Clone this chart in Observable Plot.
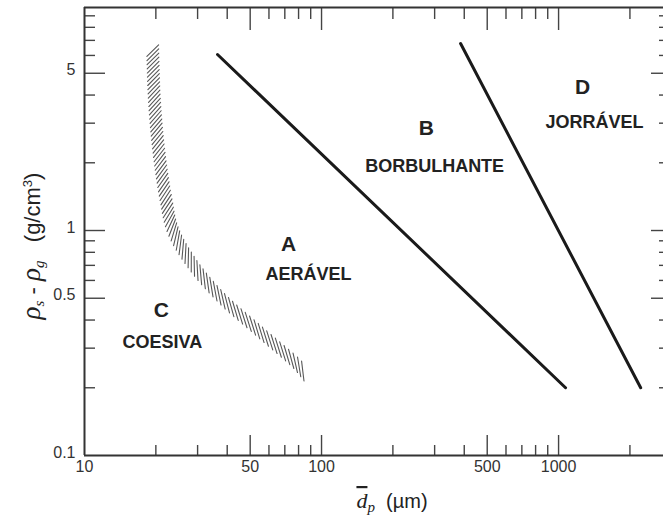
<!DOCTYPE html>
<html><head><meta charset="utf-8">
<script src="https://cdn.jsdelivr.net/npm/d3@7"></script>
<script src="https://cdn.jsdelivr.net/npm/@observablehq/plot@0.6"></script>
<style>
html,body{margin:0;padding:0;background:#fff;overflow:hidden}
</style></head><body><div id="chart"></div>
<script>
// tick values
const xMajor = [50, 100, 500, 1000];
const xMinor = [20, 30, 40, 60, 70, 80, 90, 200, 300, 400, 600, 700, 800, 900, 2000];
const xLabels = [10, 50, 100, 500, 1000];
const yMajor = [0.5, 1, 5];
const yMinor = [0.2, 0.3, 0.4, 0.6, 0.7, 0.8, 0.9, 2, 3, 4, 6, 7, 8, 9];
const yLabels = [0.1, 0.5, 1, 5];

// boundaries (dp in µm, rho_s - rho_g in g/cm3)
const lineAB_dp = [36.4, 1070];
const lineAB_drho = [6.06, 0.2];
const lineBD_dp = [386, 2220];
const lineBD_drho = [6.78, 0.2];
const bandCA_dp = [19.4, 19.7, 20.5, 22, 23.7, 28.6, 38, 54, 77, 84];
const bandCA_drho = [6.4, 3.9, 2.35, 1.4, 1.0, 0.71, 0.5, 0.36, 0.26, 0.235];

// region labels
const regionLetters = ["A", "B", "C", "D"];
const regionNames = ["AERÁVEL", "BORBULHANTE", "COESIVA", "JORRÁVEL"];
const letterDp = [72.6, 277, 21.1, 1262];
const letterDrho = [0.867, 2.84, 0.441, 4.32];
const nameDp = [88.1, 300, 21.3, 1419];
const nameDrho = [0.637, 1.94, 0.318, 3.02];

const ink = "#222";
const tickInk = "#444";
const sans = "'Liberation Sans', Arial, Helvetica, sans-serif";
const serif = "'Liberation Serif', 'Times New Roman', serif";

const plot = Plot.plot({
  width: 663, height: 519,
  marginLeft: 84, marginRight: 0, marginTop: 7, marginBottom: 64,
  style: {fontFamily: sans, overflow: "hidden", background: "#fff"},
  x: {type: "log", domain: [10, 2966], range: [84, 670], axis: null},
  y: {type: "log", domain: [0.1, 9.8], axis: null},
  marks: [
    // inward ticks on all four sides
    Plot.axisX(xMajor, {anchor: "bottom", tickSize: -20, fill: "none", stroke: tickInk, strokeWidth: 1.4, label: null}),
    Plot.axisX(xMinor, {anchor: "bottom", tickSize: -10, fill: "none", stroke: tickInk, strokeWidth: 1.4, label: null}),
    Plot.axisX(xMajor, {anchor: "top", tickSize: -22, fill: "none", stroke: tickInk, strokeWidth: 1.4, label: null}),
    Plot.axisX(xMinor, {anchor: "top", tickSize: -11, fill: "none", stroke: tickInk, strokeWidth: 1.4, label: null}),
    Plot.axisY(yMajor, {anchor: "left", tickSize: -21, fill: "none", stroke: tickInk, strokeWidth: 1.4, label: null}),
    Plot.axisY(yMinor, {anchor: "left", tickSize: -11, fill: "none", stroke: tickInk, strokeWidth: 1.4, label: null}),
    Plot.axisY(yMajor, {anchor: "right", tickSize: -13, fill: "none", stroke: tickInk, strokeWidth: 1.4, label: null}),
    Plot.axisY(yMinor, {anchor: "right", tickSize: -5, fill: "none", stroke: tickInk, strokeWidth: 1.4, label: null}),
    // tick labels
    Plot.text(xLabels, {x: d => d, frameAnchor: "bottom", dy: 16, text: d => String(d), fontSize: 16, fill: "#333"}),
    Plot.axisY(yLabels, {anchor: "left", tickSize: 0, tickPadding: 9, dy: -3, fontSize: 16, fill: "#333", tickFormat: d => String(d), label: null}),
    // frame (bottom, top, left)
    Plot.ruleY([0.1, 9.8], {stroke: "#333", strokeWidth: 2}),
    Plot.ruleX([10], {stroke: "#333", strokeWidth: 2}),
    // boundaries
    Plot.line({length: lineAB_dp.length}, {x: lineAB_dp, y: lineAB_drho, stroke: "#1a1a1a", strokeWidth: 3}),
    Plot.line({length: lineBD_dp.length}, {x: lineBD_dp, y: lineBD_drho, stroke: "#1a1a1a", strokeWidth: 3}),
    Plot.line({length: bandCA_dp.length}, {x: bandCA_dp, y: bandCA_drho, curve: "catmull-rom", stroke: "#555", strokeWidth: 11, strokeDasharray: "1.3,2"}),
    // region labels
    Plot.text(regionLetters, {x: letterDp, y: letterDrho, text: d => d, fontSize: 21, fontWeight: "bold", fill: ink}),
    Plot.text(regionNames, {x: nameDp, y: nameDrho, text: d => d, fontSize: 18, fontWeight: "bold", fill: ink})
  ]
});
document.getElementById("chart").appendChild(plot);

// slanted hatching along the library-drawn band path
try {
  const path = plot.querySelector('g[stroke-width="11"] path');
  const L = path.getTotalLength();
  if (L > 10) {
    const g = d3.select(path.parentNode).append("g")
      .attr("stroke", "#585858").attr("stroke-width", 1.1).attr("stroke-dasharray", "none");
    const deg = Math.PI / 180;
    let t = 1.5;
    while (t < L - 1) {
      const p = path.getPointAtLength(t);
      const a = path.getPointAtLength(Math.max(0, t - 1));
      const b = path.getPointAtLength(Math.min(L, t + 1));
      const tan = Math.atan2(b.y - a.y, b.x - a.x);
      const phiDeg = Math.max(32, Math.min(47, 30 + 0.34 * (tan / deg - 40)));
      const phi = phiDeg * deg;
      const h = Math.min(10, 6 / Math.sin(phi));
      const th = tan + phi;
      g.append("line")
        .attr("x1", p.x - h * Math.cos(th)).attr("y1", p.y - h * Math.sin(th))
        .attr("x2", p.x + h * Math.cos(th)).attr("y2", p.y + h * Math.sin(th));
      t += 3.0 / Math.sin(phi);
    }
    path.setAttribute("stroke", "none");
  }
} catch (e) { console.error("hatch: " + e.message); }

// axis titles
const svg = d3.select(plot);
const yt = svg.append("text").attr("transform", "translate(40,246) rotate(-90)")
  .attr("text-anchor", "middle").attr("font-size", 22).attr("fill", ink).attr("font-family", sans);
yt.append("tspan").attr("font-family", serif).attr("font-style", "italic").attr("font-size", 27).text("ρ");
yt.append("tspan").attr("font-family", serif).attr("font-style", "italic").attr("font-size", 15).attr("dy", 4).text("s");
yt.append("tspan").attr("dy", -4).text(" - ");
yt.append("tspan").attr("font-family", serif).attr("font-style", "italic").attr("font-size", 27).text("ρ");
yt.append("tspan").attr("font-family", serif).attr("font-style", "italic").attr("font-size", 15).attr("dy", 4).text("g");
yt.append("tspan").attr("dy", -4).text("   (g/cm");
yt.append("tspan").attr("font-size", 13).attr("dy", -8).text("3");
yt.append("tspan").attr("dy", 8).text(")");

const xt = svg.append("text").attr("x", 392).attr("y", 508)
  .attr("text-anchor", "middle").attr("font-size", 20).attr("fill", ink).attr("font-family", sans);
xt.append("tspan").attr("font-family", serif).attr("font-style", "italic").attr("font-size", 22).style("text-decoration", "overline").text("d");
xt.append("tspan").attr("font-family", serif).attr("font-style", "italic").attr("font-size", 15).attr("dy", 4).text("p");
xt.append("tspan").attr("dy", -4).text("  (µm)");
</script></body></html>
